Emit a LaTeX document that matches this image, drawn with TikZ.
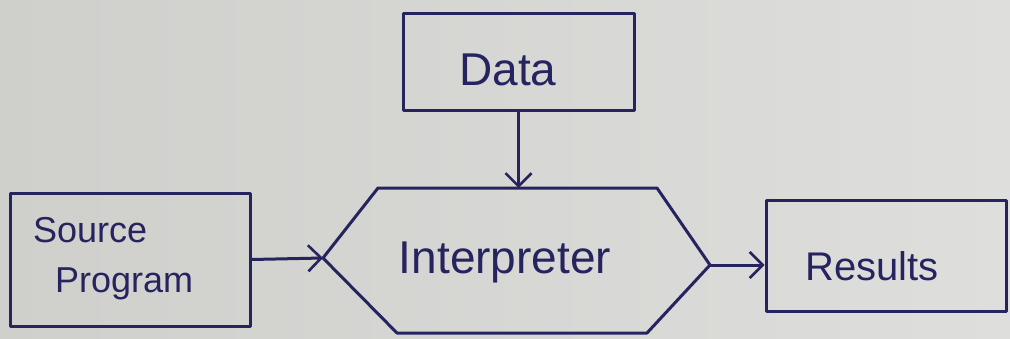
\documentclass[tikz,border=0pt]{standalone}
\usepackage{fontspec}
\setmainfont{Liberation Sans}
\usetikzlibrary{arrows.meta}
\definecolor{ink}{HTML}{26245F}
\definecolor{paperL}{HTML}{CFCFCC}
\definecolor{paperR}{HTML}{DEDEDC}
\tikzset{
  ink line/.style={draw=ink, line width=3pt, line join=round, line cap=round},
  block/.style={ink line, rectangle, inner sep=0pt},
  label text/.style={text=ink, inner sep=0pt},
  flow/.style={ink line, -{Straight Barb[length=13pt,width=26pt,line width=2.6pt]}}
}
\begin{document}
\begin{tikzpicture}[x=1pt,y=-1pt]
  % paper
  \shade[left color=paperL, right color=paperR] (0,0) rectangle (1010,338);
  \useasboundingbox (0,0) rectangle (1010,338);

  % boxes
  \node[block, minimum width=231pt, minimum height=97pt] (data) at (518.5,61.5) {};
  \node[label text, font=\fontsize{46}{50}\selectfont] (datat) at (508,70) {Data};

  \node[block, minimum width=240pt, minimum height=133pt] (src) at (130,259.5) {};
  \node[label text, font=\fontsize{36}{40}\selectfont, anchor=west] (srct1) at (33,230) {Source};
  \node[label text, font=\fontsize{36}{40}\selectfont, anchor=west] (srct2) at (55,284) {Program};

  \node[block, minimum width=240pt, minimum height=111pt] (res) at (886,255.5) {};
  \node[label text, font=\fontsize{40}{44}\selectfont] (rest) at (872,266) {Results};

  % interpreter hexagon
  \coordinate (hTL) at (378,188);
  \coordinate (hTR) at (657,188);
  \coordinate (hR)  at (710,265);
  \coordinate (hBR) at (647,333);
  \coordinate (hBL) at (397,333);
  \coordinate (hL)  at (323,258);
  \coordinate (hT)  at (518.5,188);
  \draw[ink line] (hTL) -- (hTR) -- (hR) -- (hBR) -- (hBL) -- (hL) -- cycle;
  \node[label text, font=\fontsize{46}{50}\selectfont] (interp) at (505,262) {Interpreter};

  % connectors
  \draw[flow] (data.south) -- (hT);
  \draw[flow] (src.east) -- (hL);
  \draw[flow] (hR) -- (hR -| res.west);
\end{tikzpicture}
\end{document}
